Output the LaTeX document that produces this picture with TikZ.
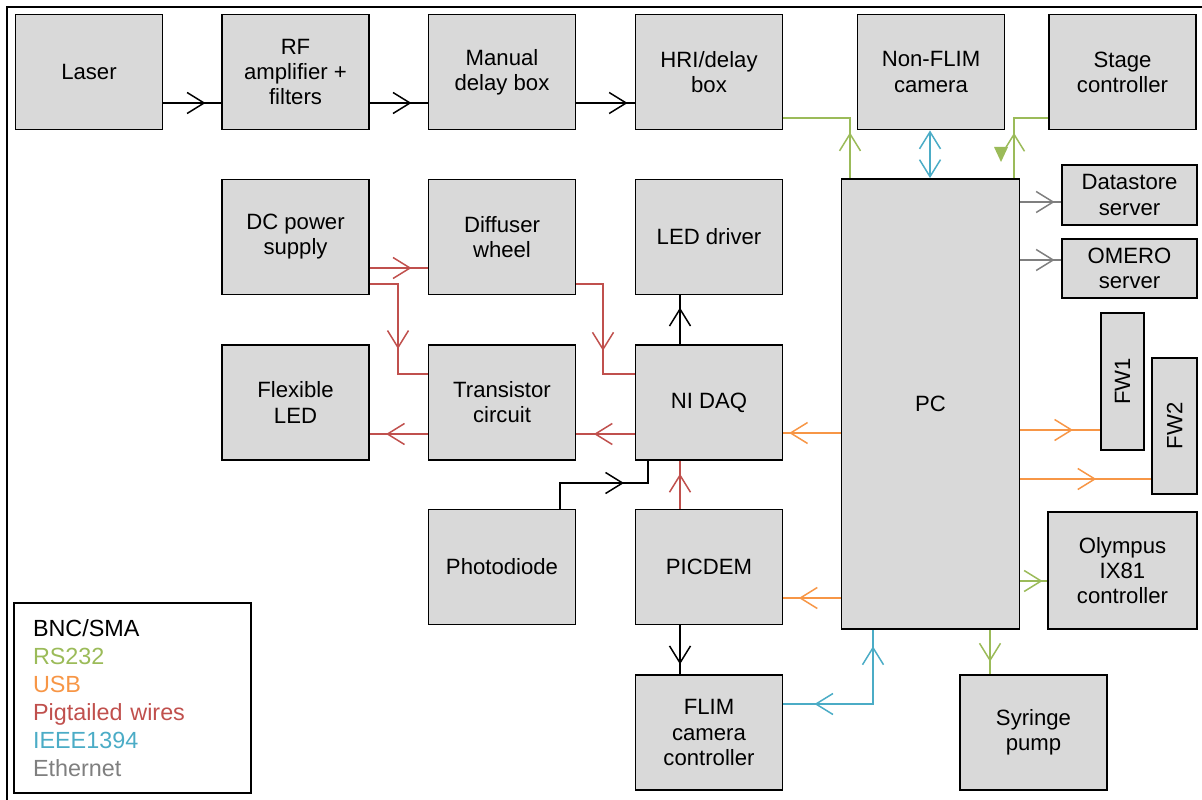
\documentclass[tikz,border=0pt]{standalone}
\usepackage{fontspec}
\setmainfont{Liberation Sans}
\usetikzlibrary{arrows.meta, decorations.markings}
\definecolor{boxgrey}{HTML}{D9D9D9}
\definecolor{rsgreen}{HTML}{9BBB59}
\definecolor{usborange}{HTML}{F79646}
\definecolor{pigred}{HTML}{C0504D}
\definecolor{fwblue}{HTML}{4BACC6}
\definecolor{ethgrey}{HTML}{7F7F7F}

\begin{document}
\begin{tikzpicture}[
  x=0.02cm, y=-0.02cm,
  font=\fontsize{12.6}{14.3}\selectfont,
  barb/.tip={Straight Barb[length=3.4mm, width=4.2mm]},
  box/.style={draw, line width=1.1pt, fill=boxgrey, align=center, inner sep=2pt,
              minimum width=2.94cm, minimum height=2.3cm},
  wire/.style={line width=0.85pt},
  bnc/.style={wire, draw=black},
  rs/.style={wire, draw=rsgreen},
  usb/.style={wire, draw=usborange},
  pig/.style={wire, draw=pigred},
  fw/.style={wire, draw=fwblue},
  eth/.style={wire, draw=ethgrey},
  arr/.style={postaction={decorate, decoration={markings,
      mark=at position #1 with {\arrow{barb}}}}},
  rarr/.style={postaction={decorate, decoration={markings,
      mark=at position #1 with {\arrowreversed{barb}}}}}
]
\useasboundingbox (0,0) rectangle (1202,800);

% ---- Frame ----
\draw[line width=1.1pt] (7,800) -- (7,7) -- (1202,7);

% ---- Top row ----
\node[box] (laser)   at (89,72)     {Laser};
\node[box] (rfamp)   at (295.5,72)  {RF\\amplifier +\\filters};
\node[box] (manual)  at (502,72)    {Manual\\delay box};
\node[box] (hri)     at (709,72)    {HRI/delay\\box};
\node[box] (nonflim) at (931,72)    {Non-FLIM\\camera};
\node[box] (stage)   at (1122.5,72) {Stage\\controller};

% ---- Middle rows ----
\node[box] (dcpsu)      at (295.5,237)   {DC power\\supply};
\node[box] (diffuser)   at (502,237)     {Diffuser\\wheel};
\node[box] (leddrv)     at (709,237)     {LED driver};
\node[box] (flexled)    at (295.5,402.5) {Flexible\\LED};
\node[box] (transistor) at (502,402.5)   {Transistor\\circuit};
\node[box] (nidaq)      at (709,402.5)   {NI DAQ};
\node[box] (photodiode) at (502,567)     {Photodiode};
\node[box] (picdem)     at (709,567)     {PICDEM};
\node[box] (flimctrl)   at (709,732.5)   {FLIM\\camera\\controller};

% ---- PC and its peripherals ----
\node[box, minimum width=3.56cm, minimum height=9cm] (pc) at (930.5,404) {PC};
\node[box, minimum width=2.7cm, minimum height=1.2cm] (datastore) at (1129.5,195)
  {Datastore\\server};
\node[box, minimum width=2.7cm, minimum height=1.18cm] (omero) at (1129.5,268.5)
  {OMERO\\server};
\node[box, minimum width=0.86cm, minimum height=2.74cm, inner sep=0pt] (fw1)
  at (1122.5,381.5) {\rotatebox{90}{FW1}};
\node[box, minimum width=0.9cm, minimum height=2.72cm, inner sep=0pt] (fw2)
  at (1174.5,426) {\rotatebox{90}{FW2}};
\node[box, minimum width=2.98cm, minimum height=2.34cm] (olympus) at (1122.5,570.5)
  {Olympus\\IX81\\controller};
\node[box] (syringe) at (1033.5,732.5) {Syringe\\pump};

% ---- BNC/SMA ----
\draw[bnc, arr=0.73] (laser.east |- 0,103) -- (rfamp.west |- 0,103);
\draw[bnc, arr=0.72] (rfamp.east |- 0,103) -- (manual.west |- 0,103);
\draw[bnc, arr=0.88] (manual.east |- 0,103) -- (hri.west |- 0,103);
\draw[bnc, arr=0.75] (nidaq.north -| 680,0) -- (leddrv.south -| 680,0);
\draw[bnc, arr=0.66] (photodiode.north -| 560,0) |- (648,483) -- (nidaq.south -| 648,0);
\draw[bnc, arr=0.8] (picdem.south -| 680,0) -- (flimctrl.north -| 680,0);

% ---- RS232 ----
\draw[rs, arr=0.36] (pc.north -| 850,0) |- (hri.east |- 0,118);
\draw[rs, arr=0.48] (pc.north -| 1014,0) |- (stage.west |- 0,118);
\fill[rsgreen] (994,147) -- (1008,147) -- (1001,162) -- cycle;
\draw[rs, arr=0.83] (pc.east |- 0,581) -- (olympus.west |- 0,581);
\draw[rs, arr=0.72] (pc.south -| 990,0) -- (syringe.north -| 990,0);

% ---- IEEE1394 ----
\draw[fw, {barb}-{barb}] (nonflim.south -| 930,0) -- (pc.north -| 930,0);
\draw[fw, rarr=0.19, arr=0.9] (flimctrl.east |- 0,704) -| (pc.south -| 873,0);

% ---- USB ----
\draw[usb, arr=0.9] (pc.west |- 0,433) -- (nidaq.east |- 0,433);
\draw[usb, arr=0.73] (pc.west |- 0,598) -- (picdem.east |- 0,598);
\draw[usb, arr=0.66] (pc.east |- 0,430) -- (fw1.west |- 0,430);
\draw[usb, arr=0.58] (pc.east |- 0,479) -- (fw2.west |- 0,479);

% ---- Pigtailed wires ----
\draw[pig, arr=0.72] (dcpsu.east |- 0,268) -- (diffuser.west |- 0,268);
\draw[pig, arr=0.63] (dcpsu.east |- 0,284) -| (398,374) -- (transistor.west |- 0,374);
\draw[pig, arr=0.63] (diffuser.east |- 0,284) -| (603,374) -- (nidaq.west |- 0,374);
\draw[pig, arr=0.7] (nidaq.west |- 0,434) -- (transistor.east |- 0,434);
\draw[pig, arr=0.72] (transistor.west |- 0,434) -- (flexled.east |- 0,434);
\draw[pig, arr=0.73] (picdem.north -| 680,0) -- (nidaq.south -| 680,0);

% ---- Ethernet ----
\draw[eth, arr=0.84] (pc.east |- 0,202) -- (datastore.west |- 0,202);
\draw[eth, arr=0.84] (pc.east |- 0,260) -- (omero.west |- 0,260);

% ---- Legend ----
\node[draw, line width=1.1pt, minimum width=4.74cm, minimum height=3.8cm,
      inner xsep=0.38cm, text width=3.98cm, align=left,
      font=\fontsize{13.3}{15.9}\selectfont] (legend) at (132.5,698)
  {BNC/SMA\\
   \textcolor{rsgreen}{RS232}\\
   \textcolor{usborange}{USB}\\
   \textcolor{pigred}{Pigtailed wires}\\
   \textcolor{fwblue}{IEEE1394}\\
   \textcolor{ethgrey}{Ethernet}};

\end{tikzpicture}
\end{document}
